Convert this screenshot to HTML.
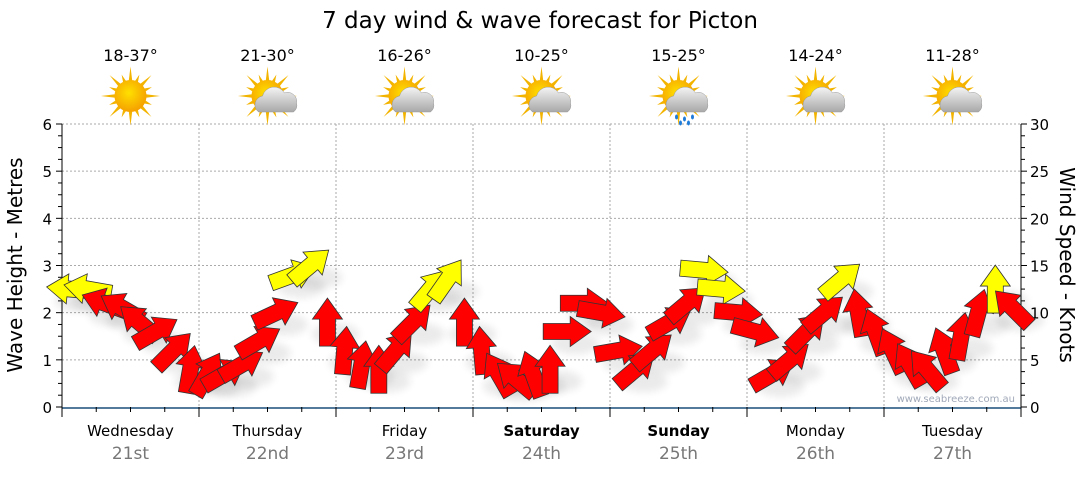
<!DOCTYPE html>
<html><head><meta charset="utf-8"><style>
body{margin:0;background:#fff;width:1080px;height:475px;overflow:hidden;font-family:"DejaVu Sans","Liberation Sans",sans-serif}
</style></head><body>
<svg id="chart" width="1080" height="475" viewBox="0 0 1080 475" xmlns="http://www.w3.org/2000/svg" font-family="DejaVu Sans, Liberation Sans, sans-serif">
<defs>
<radialGradient id="sunG" cx="45%" cy="40%" r="60%"><stop offset="0" stop-color="#ffe000"/><stop offset="1" stop-color="#f5a000"/></radialGradient>
<linearGradient id="cloudG" x1="0" y1="0" x2="0" y2="1"><stop offset="0" stop-color="#f4f4f4"/><stop offset="1" stop-color="#a8a8a8"/></linearGradient>
<filter id="shadow" x="-50%" y="-50%" width="200%" height="200%"><feGaussianBlur stdDeviation="4"/></filter>
</defs>
<text x="540" y="28" text-anchor="middle" font-size="23" fill="#000">7 day wind &amp; wave forecast for Picton</text>
<g id="grid"></g>
<g id="axes"></g>
<g id="marks"></g>
<g id="topg"></g>
<text x="1015" y="402" text-anchor="end" font-size="10" fill="#a0a8b8">www.seabreeze.com.au</text>
<text transform="translate(22,265) rotate(-90)" text-anchor="middle" font-size="20" fill="#000">Wave Height - Metres</text>
<text transform="translate(1060,265) rotate(90)" text-anchor="middle" font-size="20" fill="#000">Wind Speed - Knots</text>
</svg>
<script>
const days=["Wednesday","Thursday","Friday","Saturday","Sunday","Monday","Tuesday"];
const dates=["21st","22nd","23rd","24th","25th","26th","27th"];
const boldDays=[false,false,false,true,true,false,false];
const temps=["18-37°","21-30°","16-26°","10-25°","15-25°","14-24°","11-28°"];
const weather=["sun","cloud","cloud","cloud","rain","cloud","cloud"];
const waveTicks=[0,1,2,3,4,5,6];
const windTicks=[0,5,10,15,20,25,30];
// wind samples every 3 hours from start of Wednesday
const windHours=[0,3,6,9,12,15,18,21,24,27,30,33,36,39,42,45,48,51,54,57,60,63,66,69,72,75,78,81,84,87,90,93,96,99,102,105,108,111,114,117,120,123,126,129,132,135,138,141,144,147,150,153,156,159,162,165];
const windSpeed=[12.5,12.5,11,10.5,9,8,6,4,3.5,3.5,4.5,7,10,14,15,9,6,4.5,4,6,9,12.5,13.5,9,6,3.5,3,3.5,4,8,11,10,6,4,6,9,11,14.5,12.5,10,8,3.5,5,8,10,13.5,10,8,6,4.5,4,6,7.5,10,12.5,10.5];
const windDir=[175,170,160,150,140,30,45,80,60,30,30,30,25,20,40,90,85,80,90,50,45,50,55,90,95,120,140,110,90,0,0,-10,10,40,40,30,40,-5,-5,-5,-15,30,40,45,40,40,100,110,115,120,130,110,80,75,90,135];
const NS="http://www.w3.org/2000/svg";
const X0=62,X1=1021,Y0=407,Y1=124;
const xh=h=>X0+(X1-X0)*h/168;
const yw=m=>Y0-(Y0-Y1)*m/6;
const yk=k=>Y0-(Y0-Y1)*k/30;
function el(p,t,a){const e=document.createElementNS(NS,t);for(const k in a)e.setAttribute(k,a[k]);p.appendChild(e);return e;}
const grid=document.getElementById('grid'),axes=document.getElementById('axes'),marks=document.getElementById('marks'),topG=document.getElementById('topg');
waveTicks.forEach(m=>{if(m>0){const l=el(grid,'line',{x1:X0,x2:X1,y1:yw(m),y2:yw(m),stroke:'#aaa','stroke-dasharray':'2,2','stroke-width':1});

}
const t=el(axes,'text',{x:52,y:yw(m)+6,'text-anchor':'end','font-size':15,fill:'#000'});t.textContent=m;

});
for(let i=0;i<=24;i++){const y=yw(i/4);el(axes,'line',{x1:X0-(i%4?4:6),x2:X0,y1:y,y2:y,stroke:'#000'});el(axes,'line',{x1:X1,x2:X1+(i%4?4:6),y1:y,y2:y,stroke:'#000'});}
windTicks.forEach(k=>{const t=el(axes,'text',{x:1030,y:yk(k)+6,'font-size':15,fill:'#000'});t.textContent=k;

});
el(axes,'line',{x1:X0,x2:X0,y1:Y1,y2:Y0,stroke:'#000'});
el(axes,'line',{x1:X1,x2:X1,y1:Y1,y2:Y0,stroke:'#000'});
el(axes,'line',{x1:X0,x2:X1,y1:Y0+1,y2:Y0+1,stroke:'#1a4f7a','stroke-width':1.5});
for(let h=0;h<=168;h+=6){const x=xh(h);el(axes,'line',{x1:x,x2:x,y1:Y0,y2:Y0+(h%24?5:10),stroke:'#000'});
if(h%24==0&&h>0&&h<168){const g=el(grid,'line',{x1:x,x2:x,y1:Y1,y2:Y0,stroke:'#aaa','stroke-dasharray':'2,2'});

}}
function sun(g,cx,cy,r){for(let i=0;i<16;i++){const a=i*Math.PI/8,L=i%2?r*1.45:r*1.85,w=0.13;
el(g,'polygon',{points:`${cx+Math.cos(a)*L},${cy+Math.sin(a)*L} ${cx+Math.cos(a+w)*r*0.9},${cy+Math.sin(a+w)*r*0.9} ${cx+Math.cos(a-w)*r*0.9},${cy+Math.sin(a-w)*r*0.9}`,fill:'#f3b400'});}
el(g,'circle',{cx,cy,r,fill:'url(#sunG)'});}
days.forEach((d,i)=>{const cx=xh(i*24+12);
const a=el(axes,'text',{x:cx,y:436,'text-anchor':'middle','font-size':15,fill:'#000','font-weight':boldDays[i]?'bold':'normal'});a.textContent=d;


const b=el(axes,'text',{x:cx,y:459,'text-anchor':'middle','font-size':17,fill:'#777'});b.textContent=dates[i];


const t=el(topG,'text',{x:cx,y:61,'text-anchor':'middle','font-size':16,fill:'#000'});t.textContent=temps[i];


const g=el(topG,'g',{});


sun(g,cx,96,16);
if(weather[i]!='sun'){el(g,'path',{d:`M${cx-9},${112} a9,9 0 0 1 4,-16 a12,12 0 0 1 22,-3 a9,9 0 0 1 12,10 a8,8 0 0 1 -3,9 z`,fill:'url(#cloudG)',stroke:'#999','stroke-width':0.5});}
if(weather[i]=='rain'){[[-2,117],[6,119],[14,117],[10,123],[2,123]].forEach(p=>el(g,'ellipse',{cx:cx+p[0],cy:p[1],rx:1.5,ry:2.5,fill:'#1e7bd8'}));}
});
function arrowPts(){return "-24,-8 3,-8 3,-15 24,0 3,15 3,8 -24,8";}
windHours.forEach((h,i)=>{const x=xh(h+1.5),y=yk(windSpeed[i]);
el(marks,'ellipse',{cx:x+8,cy:y+12,rx:24,ry:11,fill:'#000',opacity:0.08,filter:'url(#shadow)'});});
windHours.forEach((h,i)=>{const x=xh(h+1.5),y=yk(windSpeed[i]);
const p=el(marks,'polygon',{points:arrowPts(),transform:`translate(${x},${y}) rotate(${-windDir[i]})`,fill:windSpeed[i]>=12?'#ffff00':'#ff0000',stroke:'#333','stroke-width':0.8,'stroke-linejoin':'miter'});

});
</script>
</body></html>
